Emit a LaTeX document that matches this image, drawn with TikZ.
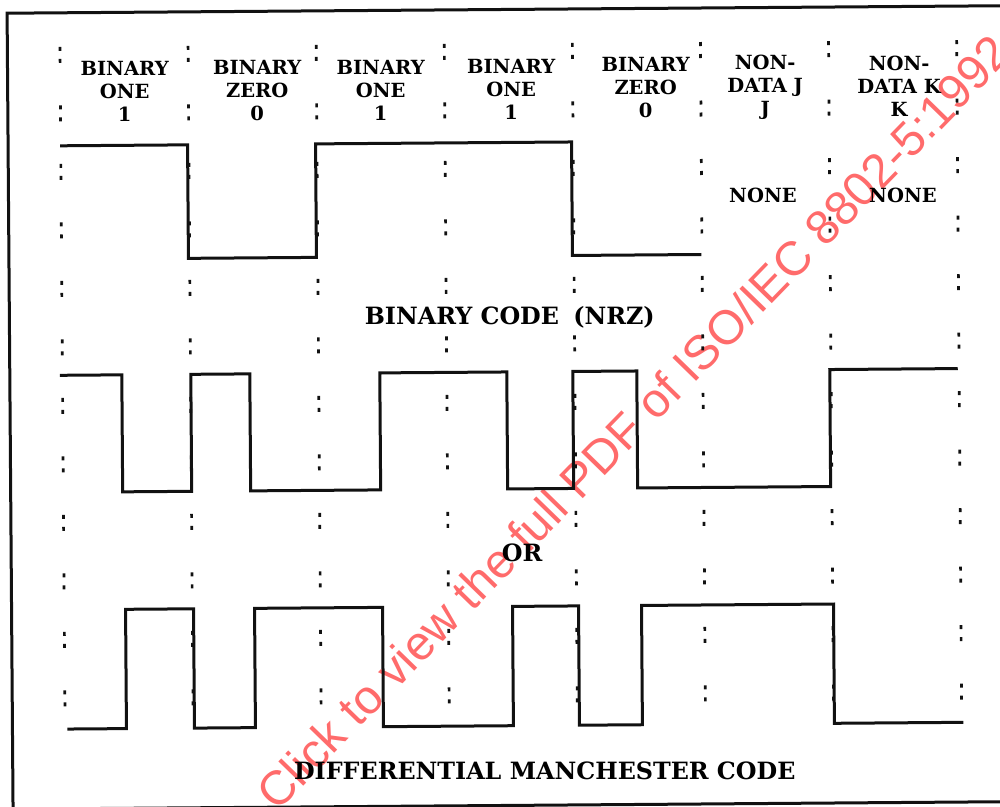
\documentclass[tikz,border=0pt]{standalone}
\usepackage{fontspec}
\setmainfont{DejaVu Serif}
\newfontfamily\markfont{Liberation Sans}
\usepackage{xcolor}
\definecolor{ScanInk}{HTML}{111111}
\definecolor{MarkRed}{HTML}{FF6B6B}
\usetikzlibrary{positioning}

\begin{document}
\begin{tikzpicture}[x=1pt, y=-1pt,
  wave/.style={draw=ScanInk, line width=3pt, line join=miter},
  frame/.style={draw=ScanInk, line width=3pt},
  tick/.style={fill=ScanInk},
  head/.style={align=center, inner sep=0pt,
               font=\fontsize{19.5}{23}\selectfont\bfseries},
  caption/.style={inner sep=0pt, font=\fontsize{23.8}{27}\selectfont\bfseries},
]
\useasboundingbox (0,0) rectangle (1000,806);
\node[text=MarkRed, rotate=45.8, anchor=base west, inner sep=0pt,
      font=\markfont\fontsize{48}{50}\selectfont] (mark) at (277,813)
  {Click to view the full PDF of ISO/IEC 8802-5:1992};

\begin{scope}[rotate around={0.43:(500,403)}]
\draw[frame] (1030,9.5) -- (10,9.5) -- (10,805.5) -- (1030,805.5);

% bit cell boundaries
\foreach \c in {0,...,7}
  \foreach \r in {0,...,11}
    \fill[tick] ({61.3+128.1*\c},{43.5+58.5*\r}) rectangle ++(2.7,4)
                ({61.3+128.1*\c},{55.5+58.5*\r}) rectangle ++(2.7,4);

\node[head] (one1)  at (127,89)   {BINARY\\ONE\\1};
\node[head] (zero1) at (259.5,89) {BINARY\\ZERO\\0};
\node[head] (one2)  at (383,89)   {BINARY\\ONE\\1};
\node[head] (one3)  at (513.5,89) {BINARY\\ONE\\1};
\node[head] (zero2) at (648,89)   {BINARY\\ZERO\\0};
\node[head] (ndj)   at (767.5,89) {NON-\\DATA J\\J};
\node[head] (ndk)   at (901.5,89) {NON-\\DATA K\\K};

\node[head] (nonej) at (764.5,197) {NONE};
\node[head] (nonek) at (904.5,198) {NONE};

% NRZ
\draw[wave] (62,142.5) -| (189.5,256) -| (317.5,142.5) -| (573.5,256) -- (702.5,256);
\node[caption] (nrz) at (510.4,317) {BINARY CODE\hspace{0.6em}(NRZ)};

% Manchester
\draw[wave] (60,372) -| (122,489) -| (191,372) -| (250,489) -| (380,372)
  -| (507,489) -| (573,372) -| (637,489) -| (830,372) -- (958,372);
\node[caption] (or) at (521,553) {OR};

% differential Manchester
\draw[wave] (65,725.8) -| (124,606.5) -| (192,725.8) -| (253,606.5) -| (381,725.8)
  -| (511,606.5) -| (577,725.8) -| (640,606.5) -| (832,725.8) -- (961,725.8);
\node[caption] (dm) at (542,771) {DIFFERENTIAL MANCHESTER CODE};
\end{scope}
\end{tikzpicture}
\end{document}
